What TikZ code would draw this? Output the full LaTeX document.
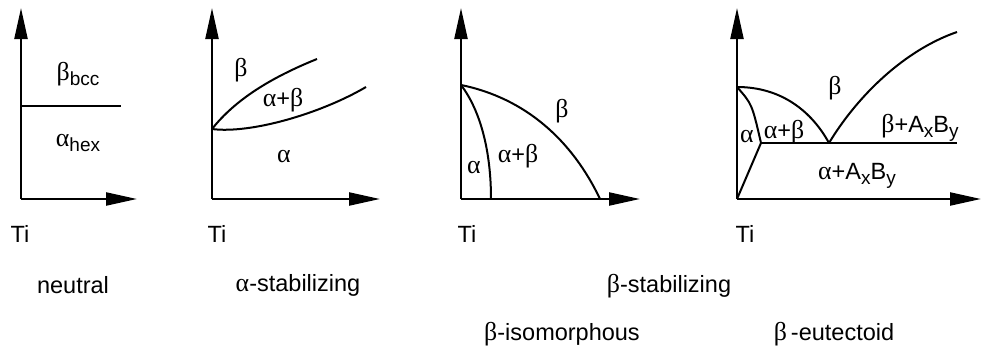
\documentclass[tikz,border=0pt]{standalone}
\usepackage{fontspec}
\setmainfont{Liberation Sans}
\newfontfamily\greekfont[Scale=1.1]{Liberation Serif}
\usetikzlibrary{arrows.meta}
\newcommand{\gal}{{\greekfont α}}
\newcommand{\gbe}{{\greekfont β}}
\newcommand{\lowsub}[1]{\raisebox{-0.4ex}{\fontsize{19}{21}\selectfont #1}}

\begin{document}
\begin{tikzpicture}[
		x=1pt, y=-1pt,
		>={Triangle[length=31pt, width=13pt]},
		axis/.style={->, line width=2.2pt},
		phase/.style={line width=2pt},
		lbl/.style={font=\fontsize{23.5}{27}\selectfont, inner sep=0pt}
		]
		\useasboundingbox (0,0) rectangle (982,351);
		
		% 1. Neutral
		\coordinate (o1) at (21,199);
		\coordinate (t1) at (21,8);
		\coordinate (r1) at (137,199);
		\draw[axis] (o1) -- (t1);
		\draw[axis] (o1) -- (r1);
		\coordinate (n1a) at (21,106);
		\coordinate (n1b) at (121,106);
		\draw[phase] (n1a) -- (n1b);
		\node[lbl] (bbcc) at (78,74) {\gbe\lowsub{bcc}};
		\node[lbl] (ahex) at (78,143) {\gal\lowsub{hex}};
		\node[lbl] (ti1) at (20,234) {Ti};
		
		% 2. Alpha stabilizing
		\coordinate (o2) at (212,199);
		\coordinate (t2) at (212,8);
		\coordinate (r2) at (380,199);
		\draw[axis] (o2) -- (t2);
		\draw[axis] (o2) -- (r2);
		\coordinate (j2) at (212,129);
		\coordinate (u2) at (317,59);
		\coordinate (l2) at (366,87);
		\draw[phase] (j2) .. controls (235,100) and (270,78) .. (u2);
		\draw[phase] (j2) .. controls (250,134) and (320,114) .. (l2);
		\node[lbl] (b2) at (241,70) {\gbe};
		\node[lbl] (ab2) at (283,100) {\gal+\gbe};
		\node[lbl] (a2) at (284,157) {\gal};
		\node[lbl] (ti2) at (217,234) {Ti};
		
		% 3. Beta isomorphous
		\coordinate (o3) at (461,199);
		\coordinate (t3) at (461,8);
		\coordinate (r3) at (640,199);
		\draw[axis] (o3) -- (t3);
		\draw[axis] (o3) -- (r3);
		\coordinate (j3) at (461,85);
		\coordinate (i3) at (491,199);
		\coordinate (e3) at (600,199);
		\draw[phase] (j3) .. controls (480,110) and (491,150) .. (i3);
		\draw[phase] (j3) .. controls (525,98) and (572,140) .. (e3);
		\node[lbl] (b3) at (562,111) {\gbe};
		\node[lbl] (ab3) at (518,156) {\gal+\gbe};
		\node[lbl] (a3) at (474,168) {\gal};
		\node[lbl] (ti3) at (467,234) {Ti};
		
		% 4. Beta eutectoid
		\coordinate (o4) at (737,199);
		\coordinate (t4) at (737,8);
		\coordinate (r4) at (981,199);
		\draw[axis] (o4) -- (t4);
		\draw[axis] (o4) -- (r4);
		\coordinate (j4) at (737,87);
		\coordinate (eu4) at (829,143);
		\coordinate (k4) at (761,143);
		\coordinate (h4) at (957,143);
		\coordinate (s4) at (957,32);
		\draw[phase] (j4) .. controls (782,87) and (812,112) .. (eu4);
		\draw[phase] (eu4) .. controls (858,95) and (905,50) .. (s4);
		\draw[phase] (k4) -- (h4);
		\draw[phase] (j4) .. controls (752,104) .. (k4);
		\draw[phase] (k4) -- (o4);
		\node[lbl] (a4) at (747,137) {\gal};
		\node[lbl] (ab4) at (784,132) {\gal+\gbe};
		\node[lbl] (b4) at (835,88) {\gbe};
		\node[lbl] (bax4) at (920,128) {\gbe+A\lowsub{x}B\lowsub{y}};
		\node[lbl] (aax4) at (857,176) {\gal+A\lowsub{x}B\lowsub{y}};
		\node[lbl] (ti4) at (745,234) {Ti};
		
		% Captions
		\node[lbl] (neutral) at (73,285) {neutral};
		\node[lbl] (astab) at (298,285) {\gal-stabilizing};
		\node[lbl] (bstab) at (669,286) {\gbe-stabilizing};
		\node[lbl] (biso) at (562,334) {\gbe-isomorphous};
		\node[lbl] (beut) at (834,334) {\gbe\,-eutectoid};
		
	\end{tikzpicture}
\end{document}
